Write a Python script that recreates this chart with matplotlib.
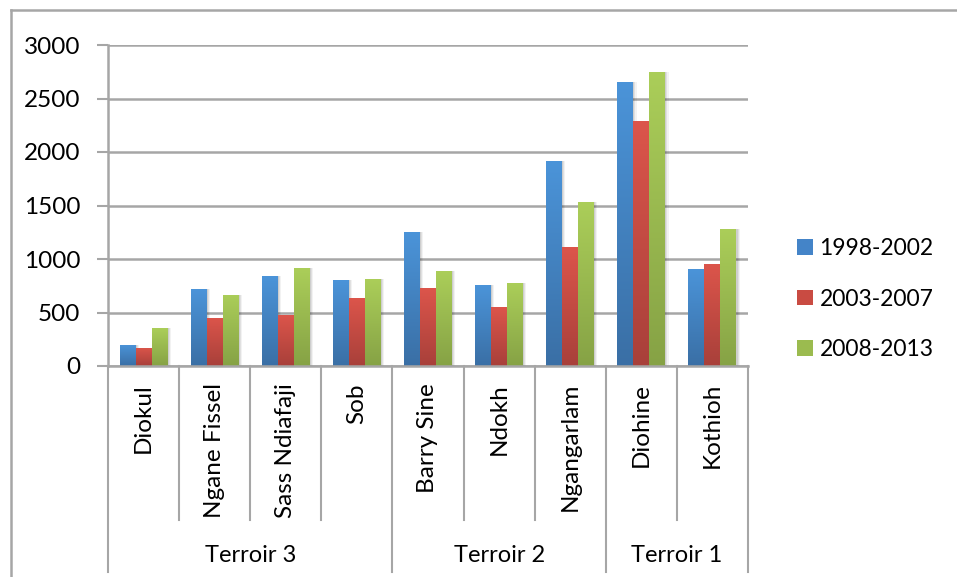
import numpy as np
import matplotlib
matplotlib.use('Agg')
import matplotlib.pyplot as plt
from matplotlib.colors import LinearSegmentedColormap
from matplotlib.patches import Patch
from matplotlib.lines import Line2D

plt.rcParams['font.family'] = ['Lato', 'DejaVu Sans']

sites = ['Diokul', 'Ngane Fissel', 'Sass Ndiafaji', 'Sob',
         'Barry Sine', 'Ndokh', 'Ngangarlam', 'Diohine', 'Kothioh']
terroirs = ['Terroir 3', 'Terroir 2', 'Terroir 1']
terroir_sizes = [4, 3, 2]
periods = ['1998-2002', '2003-2007', '2008-2013']
v1998 = [200, 715, 837, 800, 1250, 753, 1915, 2656, 903]
v2003 = [172, 453, 472, 631, 725, 547, 1109, 2290, 950]
v2008 = [355, 668, 912, 809, 884, 772, 1531, 2750, 1278]
series = [v1998, v2003, v2008]

# gradient colours (top, bottom)
grads = [('#4b94d9', '#3a6fa5'), ('#dc554b', '#a8403a'), ('#abce59', '#86a245')]
solid = ['#4484c8', '#c94b42', '#9bbb4f']

W, H = 957, 577
fig = plt.figure(figsize=(W / 100, H / 100), dpi=100)
ax = fig.add_axes([108 / W, 1 - 366 / H, 640 / W, 321 / H])

x = np.arange(len(sites))
bw = 0.225
grey = '#a6a6a6'

for k, vals in enumerate(series):
    pos = x + (k - 1) * bw
    # soft shadow
    for off, a in [(0.045, 0.05), (0.03, 0.07), (0.015, 0.08)]:
        ax.bar(pos + off, vals, bw, color='black', alpha=a, zorder=2, linewidth=0)
    bars = ax.bar(pos, vals, bw, color=solid[k], zorder=3, linewidth=0)
    cmap = LinearSegmentedColormap.from_list('g%d' % k, [grads[k][1], grads[k][0]])
    grad = np.linspace(0, 1, 256).reshape(-1, 1)
    for b in bars:
        x0 = b.get_x()
        im = ax.imshow(grad, extent=[x0, x0 + b.get_width(), 0, b.get_height()],
                       origin='lower', aspect='auto', cmap=cmap, zorder=4)
        im.set_clip_path(b)

ax.set_xlim(-0.5, len(sites) - 0.5)
ax.set_ylim(0, 3000)
ax.set_yticks(np.arange(0, 3001, 500))
ax.yaxis.grid(True, color=grey, linewidth=1.8, zorder=0)
ax.set_axisbelow(True)
ax.set_xticks([])
for s in ['top', 'right']:
    ax.spines[s].set_visible(False)
for s in ['left', 'bottom']:
    ax.spines[s].set_color(grey)
    ax.spines[s].set_linewidth(1.8)
    ax.spines[s].set_zorder(5)
ax.tick_params(axis='y', length=8, width=1.5, color=grey, labelsize=17.5, pad=12)

# multi-level category axis
tr = ax.get_xaxis_transform()
y_lab = -17 / 321
y_div = -154 / 321
y_grp = -206 / 321
for i, name in enumerate(sites):
    ax.text(i, y_lab, name, rotation=90, ha='center', va='top', fontsize=17.5,
            transform=tr, clip_on=False)
bounds = np.cumsum([0] + terroir_sizes)
for i in range(len(sites) + 1):
    bot = y_grp if i in bounds else y_div
    ax.add_line(Line2D([i - 0.5, i - 0.5], [0, bot], transform=tr, color=grey,
                       linewidth=1.5, clip_on=False))
for j, t in enumerate(terroirs):
    c = (bounds[j] + bounds[j + 1] - 1) / 2
    ax.text(c, -189 / 321, t, ha='center', va='center', fontsize=17,
            transform=tr, clip_on=False)

# outer chart frame
fig.add_artist(Line2D([11 / W, 11 / W], [0, 1 - 10 / H], color=grey, linewidth=1.8))
fig.add_artist(Line2D([11 / W, 1], [1 - 10 / H, 1 - 10 / H], color=grey, linewidth=1.8))

handles = [Patch(facecolor=solid[k], edgecolor='none') for k in range(3)]
fig.legend(handles, periods, loc='center left', bbox_to_anchor=(797 / W, 1 - 299 / H),
           frameon=False, fontsize=16.5, handlelength=0.68, handleheight=0.68,
           handletextpad=0.3, labelspacing=1.3, borderpad=0, borderaxespad=0)

fig.savefig('out.png', dpi=100)
